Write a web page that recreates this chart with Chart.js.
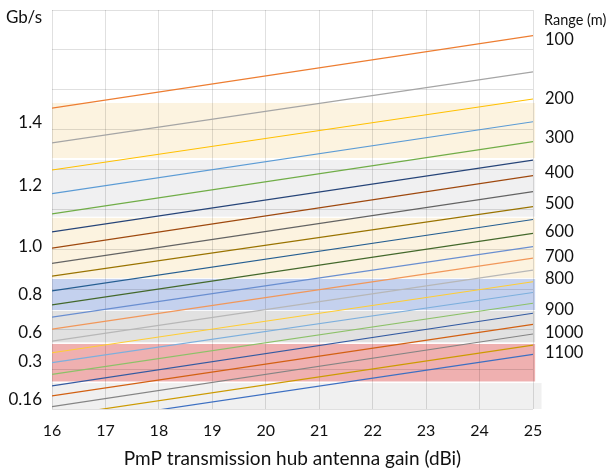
<!DOCTYPE html>
<html>
<head>
<meta charset="utf-8">
<script src="https://cdn.jsdelivr.net/npm/chart.js@4"></script>
<style>
  html, body { margin: 0; padding: 0; background: #fff; overflow: hidden; }
  #wrap { width: 616px; height: 470px; }
</style>
</head>
<body>
<div id="wrap"><canvas id="chart"></canvas></div>
<script>
// One line per hub range (m), straight from 16 dBi to 25 dBi
const ranges = [100, 150, 200, 250, 300, 350, 400, 450, 500, 550, 600,
                650, 700, 750, 800, 850, 900, 950, 1000, 1050, 1100, 1150];
const levelAt16 = [7.54, 6.67, 5.99, 5.40, 4.89, 4.44, 4.03, 3.65, 3.33, 2.96, 2.61,
                   2.30, 2.00, 1.70, 1.41, 1.16, 0.87, 0.58, 0.33, 0.06, -0.19, -0.42];
const levelAt25 = [9.36, 8.45, 7.77, 7.20, 6.70, 6.24, 5.85, 5.45, 5.07, 4.75, 4.40,
                   4.07, 3.78, 3.48, 3.19, 2.92, 2.65, 2.40, 2.12, 1.88, 1.60, 1.37];
const lineColors = ['#ED7D31', '#A5A5A5', '#FFC000', '#5B9BD5', '#70AD47', '#264478',
                    '#9E480E', '#636363', '#997300', '#255E91', '#43682B', '#698ED0',
                    '#F1975A', '#B7B7B7', '#FFCD33', '#7CAFDD', '#8CC168', '#335AA1',
                    '#D26012', '#848484', '#CC9A00', '#3C6FC2'];

// Rate bands (Gb/s) shown on the left
const rateLabels = ['1.4', '1.2', '1.0', '0.8', '0.6', '0.3', '0.16'];
const rateLabelPos = [7.18, 5.59, 4.07, 2.86, 1.91, 1.20, 0.23];
const bandFrom = [6.29, 4.82, 3.28, 2.48, 1.67, 0.69, 0];
const bandTo = [7.67, 6.24, 4.79, 3.26, 2.46, 1.63, 0.65];
const bandEndX = [25.04, 25.04, 25.04, 25.04, 25.04, 25.04, 25.16];
const bandColors = ['rgb(252,243,224)', 'rgb(240,240,241)', 'rgb(252,243,224)',
                    'rgb(196,209,238)', 'rgb(225,225,225)', 'rgb(239,176,176)',
                    'rgb(240,240,240)'];

// Range labels on the right
const rangeLabels = ['100', '200', '300', '400', '500', '600', '700', '800', '900', '1000', '1100'];
const rangeLabelPos = [9.25, 7.79, 6.79, 5.92, 5.14, 4.44, 3.83, 3.26, 2.50, 1.92, 1.42];

Chart.defaults.font.family = 'Lato, "Open Sans", sans-serif';
Chart.defaults.color = '#111';

const gridColor = 'rgba(0,0,0,0.12)';

// Label padding of the side axes would push the plot down, drop it
function noPad(scale, width) {
    scale.width = width;
    scale.paddingTop = 0;
    scale.paddingBottom = 0;
}

// Coloured rate bands, drawn under the grid
const bandsPlugin = {
    id: 'bands',
    beforeDraw(chart) {
        const { ctx, scales: { x, y } } = chart;
        ctx.save();
        bandFrom.forEach((from, i) => {
            const left = x.getPixelForValue(16);
            const right = x.getPixelForValue(bandEndX[i]);
            const top = y.getPixelForValue(bandTo[i]);
            const bottom = y.getPixelForValue(from);
            ctx.fillStyle = bandColors[i];
            ctx.fillRect(left, top, right - left, bottom - top);
        });
        ctx.restore();
    }
};

// Unit captions above the two label columns
const unitsPlugin = {
    id: 'units',
    afterDraw(chart) {
        const { ctx, chartArea, scales: { yl, yr } } = chart;
        ctx.save();
        ctx.font = '17px ' + Chart.defaults.font.family;
        ctx.fillStyle = '#111';
        ctx.textBaseline = 'middle';
        ctx.textAlign = 'right';
        ctx.fillText('Gb/s', yl.right - 10, chartArea.top + 8);
        ctx.font = '14.5px ' + Chart.defaults.font.family;
        ctx.textAlign = 'left';
        ctx.fillText('Range (m)', yr.left + 11, chartArea.top + 10);
        ctx.restore();
    }
};

new Chart(document.getElementById('chart'), {
    type: 'line',
    data: {
        datasets: ranges.map((r, i) => ({
            label: r + ' m',
            data: [{ x: 16, y: levelAt16[i] }, { x: 25, y: levelAt25[i] }],
            borderColor: lineColors[i],
            borderWidth: 1.2,
            pointRadius: 0,
            xAxisID: 'x',
            yAxisID: 'y'
        }))
    },
    options: {
        responsive: true,
        maintainAspectRatio: false,
        animation: false,
        layout: { padding: { top: 10, left: 0, right: 0, bottom: 0 } },
        plugins: {
            legend: { display: false },
            tooltip: { enabled: false }
        },
        scales: {
            x: {
                type: 'linear',
                min: 16,
                max: 25,
                ticks: { stepSize: 1, padding: 12, font: { size: 16 } },
                grid: { color: gridColor, drawTicks: false },
                border: { display: false },
                title: {
                    display: true,
                    text: 'PmP transmission hub antenna gain (dBi)',
                    font: { size: 19 },
                    padding: { top: 0, bottom: 0 }
                },
                afterFit(scale) { scale.height = 61; }
            },
            y: {
                position: 'left',
                weight: 0,
                min: 0,
                max: 10,
                ticks: { display: false, stepSize: 1 },
                grid: { color: gridColor, drawTicks: false },
                border: { display: false },
                afterFit(scale) { noPad(scale, 0); }
            },
            yl: {
                position: 'left',
                weight: 1,
                min: 0,
                max: 10,
                grid: { display: false, drawTicks: false },
                border: { display: false },
                afterBuildTicks(scale) {
                    scale.ticks = rateLabelPos.map(v => ({ value: v }));
                },
                ticks: {
                    autoSkip: false,
                    padding: 10,
                    font: { size: 17 },
                    callback: (value, index) => rateLabels[index]
                },
                afterFit(scale) { noPad(scale, 52); }
            },
            yr: {
                position: 'right',
                min: 0,
                max: 10,
                grid: { display: false, drawTicks: false },
                border: { display: false },
                afterBuildTicks(scale) {
                    scale.ticks = rangeLabelPos.map(v => ({ value: v }));
                },
                ticks: {
                    autoSkip: false,
                    padding: 12,
                    font: { size: 16.5 },
                    callback: (value, index) => rangeLabels[index]
                },
                afterFit(scale) { noPad(scale, 83); }
            }
        }
    },
    plugins: [bandsPlugin, unitsPlugin]
});
</script>
</body>
</html>
